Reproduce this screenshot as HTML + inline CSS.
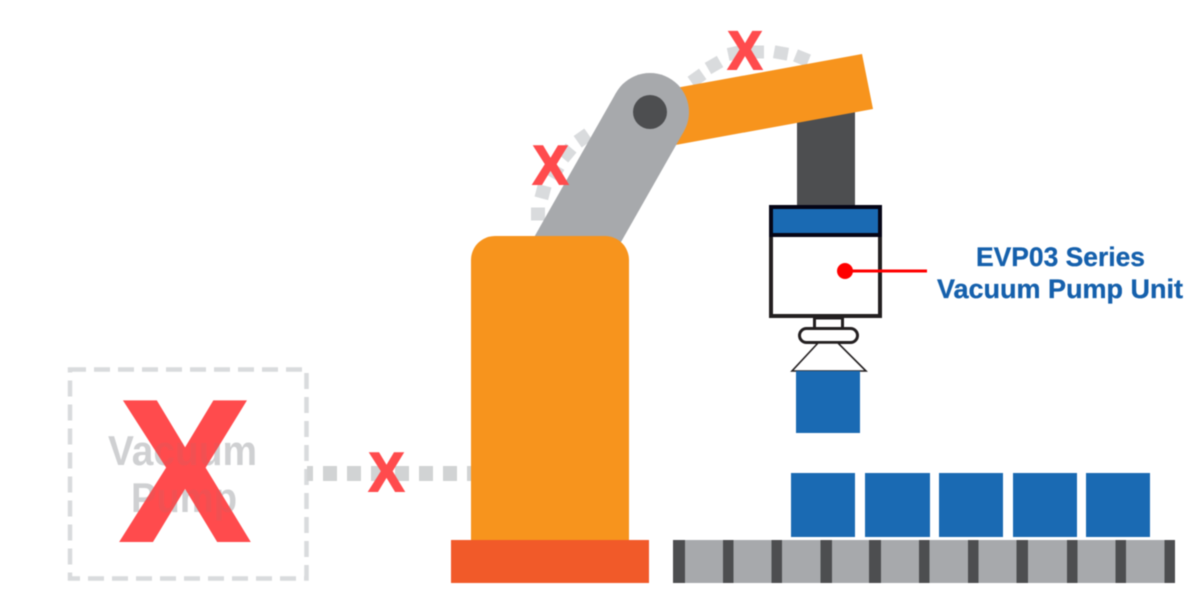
<!DOCTYPE html>
<html>
<head>
<meta charset="utf-8">
<style>
html,body{margin:0;padding:0;background:#fff;width:1200px;height:606px;overflow:hidden}
svg{display:block}
#all{filter:blur(0.55px)}
text{font-family:"Liberation Sans",Arial,sans-serif;font-weight:bold}
</style>
</head>
<body>
<svg width="1200" height="606" viewBox="0 0 1200 606" xmlns="http://www.w3.org/2000/svg">
<rect width="1200" height="606" fill="#fff"/>
<g id="all">

<!-- dashed pump box -->
<rect x="70" y="369.5" width="236.5" height="209" fill="none" stroke="#d9dbdd" stroke-width="4.5" stroke-dasharray="16 8"/>
<text x="108" y="465" font-size="42" fill="#d8dadc" textLength="149" lengthAdjust="spacingAndGlyphs">Vacuum</text>
<text x="131" y="512" font-size="42" fill="#d8dadc" textLength="106" lengthAdjust="spacingAndGlyphs">Pump</text>

<!-- dotted hose -->
<line x1="307" y1="473.5" x2="471" y2="473.5" stroke="#d1d3d4" stroke-width="15" stroke-dasharray="14 10" stroke-dashoffset="8"/>

<!-- dotted arcs -->
<g fill="#d9dbdd">
<rect x="-7" y="-6.5" width="14" height="13" transform="translate(538,214) rotate(0)"/>
<rect x="-7" y="-6.5" width="14" height="13" transform="translate(543,192) rotate(15)"/>
<rect x="-7" y="-6.5" width="14" height="13" transform="translate(555,172) rotate(30)"/>
<rect x="-7" y="-6.5" width="14" height="13" transform="translate(567,153) rotate(40)"/>
<rect x="-7" y="-6.5" width="14" height="13" transform="translate(583,138) rotate(55)"/>
<rect x="-7" y="-6.5" width="14" height="13" transform="translate(697,78) rotate(-35)"/>
<rect x="-7" y="-6.5" width="14" height="13" transform="translate(714,65) rotate(-30)"/>
<rect x="-7" y="-6.5" width="14" height="13" transform="translate(735,53) rotate(-12)"/>
<rect x="-7" y="-6.5" width="14" height="13" transform="translate(757,52) rotate(0)"/>
<rect x="-7" y="-6.5" width="14" height="13" transform="translate(781,53) rotate(10)"/>
<rect x="-7" y="-6.5" width="14" height="13" transform="translate(802,58) rotate(22)"/>
</g>

<!-- vertical dark column and arm -->
<rect x="797" y="100" width="58" height="106" fill="#4d4e50"/>
<polygon points="862,54 873,109 670,146 670,89" fill="#f7941d"/>

<!-- grey arm -->
<line x1="650" y1="112" x2="566" y2="260" stroke="#a7a9ac" stroke-width="78"/>
<circle cx="650" cy="112" r="39" fill="#a7a9ac"/>
<circle cx="650" cy="112" r="17" fill="#4d4e50"/>

<!-- robot body -->
<path d="M471 540 V260 a24 24 0 0 1 24 -24 H605 a24 24 0 0 1 24 24 V540 Z" fill="#f7941d"/>
<rect x="451" y="540" width="198" height="43" fill="#f15a29"/>

<!-- pump unit -->
<rect x="771" y="207" width="109" height="109" fill="#fff" stroke="#231f20" stroke-width="4"/>
<rect x="771" y="207" width="109" height="28" fill="#1a6ab3" stroke="#050516" stroke-width="4"/>
<line x1="845" y1="271" x2="927" y2="271" stroke="#f00" stroke-width="3"/>
<circle cx="845" cy="271" r="8" fill="#f00"/>
<rect x="814.5" y="318" width="28" height="12" fill="#fff" stroke="#231f20" stroke-width="3"/>
<rect x="799.5" y="328.5" width="58" height="14" rx="7" fill="#fff" stroke="#231f20" stroke-width="3"/>
<polygon points="818,343 838,343 866,371 792,371" fill="#fff" stroke="#231f20" stroke-width="1.6"/>
<rect x="796" y="371" width="64" height="62" fill="#1a6ab3"/>

<!-- boxes -->
<g fill="#1a6ab3">
<rect x="791" y="473" width="64" height="64"/>
<rect x="865" y="473" width="65" height="64"/>
<rect x="939" y="473" width="64" height="64"/>
<rect x="1013" y="473" width="64" height="64"/>
<rect x="1086" y="473" width="64" height="64"/>
</g>

<!-- conveyor -->
<rect x="673" y="540" width="502" height="43" fill="#a7a9ac"/>
<g fill="#4d4e50">
<rect x="673" y="540" width="12" height="43"/>
<rect x="723" y="540" width="10.5" height="43"/>
<rect x="771.5" y="540" width="10.5" height="43"/>
<rect x="820.5" y="540" width="11.5" height="43"/>
<rect x="869" y="540" width="12" height="43"/>
<rect x="919" y="540" width="10.5" height="43"/>
<rect x="968" y="540" width="10.5" height="43"/>
<rect x="1016.5" y="540" width="11.5" height="43"/>
<rect x="1067" y="540" width="10.5" height="43"/>
<rect x="1115.5" y="540" width="10.5" height="43"/>
<rect x="1164.5" y="540" width="10.5" height="43"/>
</g>

<!-- red X marks -->
<g fill="#ff4b4d" stroke="#ff4b4d" stroke-linejoin="miter">
<text x="121" y="540" font-size="200" stroke-width="4" textLength="128" lengthAdjust="spacingAndGlyphs">X</text>
<text x="369" y="491" font-size="55" stroke-width="2" textLength="35" lengthAdjust="spacingAndGlyphs">X</text>
<text x="728" y="69" font-size="54" stroke-width="2" textLength="34" lengthAdjust="spacingAndGlyphs">X</text>
<text x="533" y="184" font-size="55" stroke-width="2" textLength="35" lengthAdjust="spacingAndGlyphs">X</text>
</g>

<!-- faint overlay where grey shows through the X marks -->
<g fill="#808080" opacity="0.1">
<text x="108" y="465" font-size="42" textLength="149" lengthAdjust="spacingAndGlyphs">Vacuum</text>
<text x="131" y="512" font-size="42" textLength="106" lengthAdjust="spacingAndGlyphs">Pump</text>
</g>

<!-- label -->
<g fill="#1560ac" stroke="#1560ac" stroke-width="0.3" font-size="27">
<text x="976" y="266" textLength="169" lengthAdjust="spacingAndGlyphs">EVP03 Series</text>
<text x="937" y="298" textLength="246" lengthAdjust="spacingAndGlyphs">Vacuum Pump Unit</text>
</g>
</g>
</svg>
</body>
</html>
